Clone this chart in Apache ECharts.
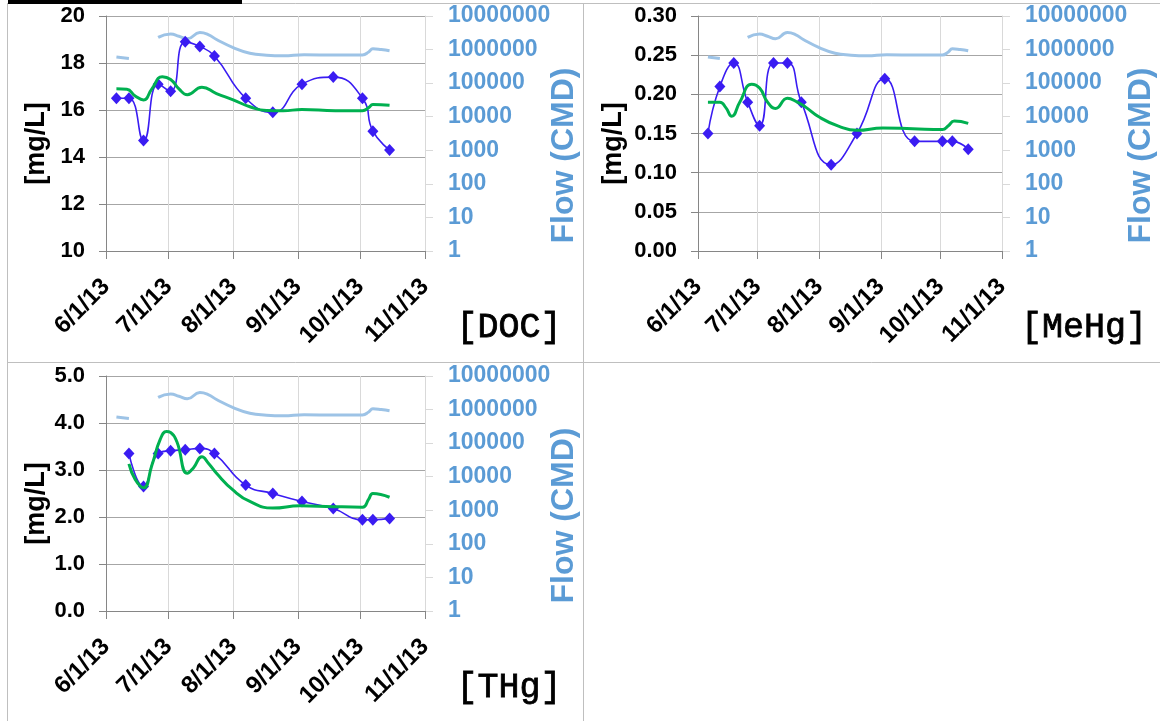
<!DOCTYPE html>
<html><head><meta charset="utf-8">
<script src="https://cdn.jsdelivr.net/npm/echarts@6/dist/echarts.min.js"></script>
<style>html,body{margin:0;padding:0;background:#fff}#c{width:1160px;height:721px}</style>
</head><body><div id="c"></div>
<script>
// ---------------- DATA ----------------
const tickDates = ['2013-06-01','2013-07-01','2013-08-01','2013-09-01','2013-10-01','2013-11-01'];
const tickLabels = ['6/1/13','7/1/13','8/1/13','9/1/13','10/1/13','11/1/13'];
const flowTickLabels = ['1','10','100','1000','10000','100000','1000000','10000000'];

const sampleDates = ['2013-06-06','2013-06-12','2013-06-19','2013-06-26','2013-07-02','2013-07-09','2013-07-16','2013-07-23','2013-08-07','2013-08-20','2013-09-03','2013-09-18','2013-10-02','2013-10-07','2013-10-15'];
const docObs  = [16.5,16.5,14.7,17.1,16.8,18.9,18.7,18.3,16.5,15.9,17.1,17.4,16.5,15.1,14.3];
const mehgObs = [0.15,0.21,0.24,0.19,0.16,0.24,0.24,0.19,0.11,0.15,0.22,0.14,0.14,0.14,0.13];
const thgDates = ['2013-06-12','2013-06-19','2013-06-26','2013-07-02','2013-07-09','2013-07-16','2013-07-23','2013-08-07','2013-08-20','2013-09-03','2013-09-18','2013-10-02','2013-10-07','2013-10-15'];
const thgObs  = [3.35,2.65,3.35,3.41,3.43,3.46,3.35,2.68,2.50,2.33,2.18,1.94,1.94,1.97];

const docModelDates = ['2013-06-06','2013-06-11','2013-06-15','2013-06-19','2013-06-23','2013-06-28','2013-07-02','2013-07-06','2013-07-10','2013-07-17','2013-07-24','2013-08-01','2013-08-09','2013-08-17','2013-08-25','2013-09-03','2013-09-19','2013-10-02','2013-10-05','2013-10-07','2013-10-15'];
const docModel = [16.9,16.88,16.6,16.43,16.9,17.42,17.3,16.9,16.65,16.97,16.7,16.43,16.14,15.98,15.97,16.02,15.97,15.97,16.1,16.23,16.2];

const mehgModelDates = ['2013-06-06','2013-06-12','2013-06-15','2013-06-18','2013-06-22','2013-06-28','2013-07-02','2013-07-06','2013-07-10','2013-07-16','2013-07-21','2013-07-25','2013-08-01','2013-08-11','2013-08-20','2013-09-02','2013-09-17','2013-10-02','2013-10-05','2013-10-08','2013-10-15'];
const mehgModel = [0.19,0.19,0.183,0.172,0.19,0.213,0.208,0.19,0.182,0.195,0.19,0.184,0.171,0.159,0.154,0.157,0.156,0.155,0.16,0.166,0.163];

const thgModelDates = ['2013-06-12','2013-06-15','2013-06-19','2013-06-23','2013-06-27','2013-06-30','2013-07-02','2013-07-05','2013-07-10','2013-07-13','2013-07-17','2013-07-20','2013-07-24','2013-08-01','2013-08-09','2013-08-20','2013-09-02','2013-09-18','2013-10-02','2013-10-05','2013-10-07','2013-10-15'];
const thgModel = [3.13,2.8,2.62,3.1,3.65,3.82,3.8,3.6,2.93,3.05,3.28,3.15,2.93,2.57,2.33,2.19,2.24,2.22,2.21,2.38,2.5,2.42];

const flowDates = ['2013-06-06','2013-06-12','2013-06-18','2013-06-26','2013-07-02','2013-07-06','2013-07-10','2013-07-16','2013-07-20','2013-07-24','2013-08-01','2013-08-09','2013-08-17','2013-08-25','2013-09-04','2013-09-19','2013-10-02','2013-10-05','2013-10-07','2013-10-11','2013-10-15'];
const flowCMD = [600000,540000,null,2300000,2900000,2500000,2100000,3200000,2800000,2000000,1150000,780000,680000,650000,700000,690000,690000,850000,1050000,1000000,920000];

// ---------------- HELPERS ----------------
const T0 = Date.parse('2013-06-01');
const day = s => (Date.parse(s) - T0) / 864e5;
const pairs = (dates, vals) => dates.map((d, i) => [day(d), vals[i]]);
const tickDays = tickDates.map(day);
const tickLabelOf = {}; tickDays.forEach((d, i) => tickLabelOf[d] = tickLabels[i]);

const panels = [
  { obsDates: sampleDates, obs: docObs, modDates: docModelDates, mod: docModel, min: 10, max: 20, interval: 2, dec: 0, tag: '[DOC]',
    grid: { left: 106, top: 16, width: 319, height: 235 }, nameGap: 56, tagPos: [509, 328] },
  { obsDates: sampleDates, obs: mehgObs, modDates: mehgModelDates, mod: mehgModel, min: 0, max: 0.30, interval: 0.05, dec: 2, tag: '[MeHg]',
    grid: { left: 698, top: 16, width: 304, height: 235 }, nameGap: 71, tagPos: [1084, 328] },
  { obsDates: thgDates, obs: thgObs, modDates: thgModelDates, mod: thgModel, min: 0, max: 5, interval: 1, dec: 1, tag: '[THg]',
    grid: { left: 106, top: 376, width: 319, height: 235 }, nameGap: 56, tagPos: [509, 688] }
];

const FONT = 'Liberation Sans, Arial, sans-serif';
const BLUE = '#3A1CF2', GREEN = '#00B050', FLOW = '#9DC3E6', FLOWTXT = '#5B9BD5';

const option = { animation: false, backgroundColor: '#fff', grid: [], xAxis: [], yAxis: [], series: [], graphic: [] };

panels.forEach((p, i) => {
  option.grid.push(Object.assign({ containLabel: false }, p.grid));
  option.xAxis.push({
    type: 'value', gridIndex: i, min: 0, max: tickDays[tickDays.length - 1],
    axisLine: { show: true, lineStyle: { color: '#868686', width: 1 } },
    axisTick: { show: true, inside: false, length: 8, customValues: tickDays, lineStyle: { color: '#868686' } },
    axisLabel: { customValues: tickDays, rotate: 45, margin: 32, color: '#000', fontFamily: FONT, fontWeight: 'bold', fontSize: 24,
      formatter: v => tickLabelOf[v] !== undefined ? tickLabelOf[v] : '' },
    splitLine: { show: true, lineStyle: { color: '#D9D9D9', width: 1 } }
  });
  option.yAxis.push({
    type: 'value', gridIndex: i, position: 'left', min: p.min, max: p.max, interval: p.interval,
    name: '[mg/L]', nameLocation: 'middle', nameGap: p.nameGap, nameRotate: 90,
    nameTextStyle: { color: '#000', fontFamily: FONT, fontWeight: 'bold', fontSize: 27, padding: [0, 20, 0, 0] },
    axisLine: { show: true, lineStyle: { color: '#868686' } },
    axisTick: { show: true, inside: false, length: 7, lineStyle: { color: '#868686' } },
    axisLabel: { color: '#000', fontFamily: FONT, fontWeight: 'bold', fontSize: 22, margin: 21, formatter: v => v.toFixed(p.dec) },
    splitLine: { show: true, lineStyle: { color: '#A6A6A6', width: 1 } }
  });
  option.yAxis.push({
    type: 'log', logBase: 10, gridIndex: i, position: 'right', min: 1, max: 1e7, splitNumber: 7,
    name: 'Flow (CMD)', nameLocation: 'middle', nameGap: 123, nameRotate: 90, nameMoveOverlap: false,
    nameTextStyle: { color: FLOWTXT, fontFamily: FONT, fontWeight: 'bold', fontSize: 32, padding: [0, 44, 0, 0] },
    axisLine: { show: true, lineStyle: { color: '#D9D9D9' } },
    axisTick: { show: true, inside: false, length: 8, lineStyle: { color: '#D9D9D9' } },
    axisLabel: { color: FLOWTXT, fontFamily: FONT, fontWeight: 'bold', fontSize: 23, margin: 23,
      formatter: v => flowTickLabels[Math.round(Math.log10(v))] },
    splitLine: { show: false }
  });
  option.series.push({
    type: 'line', xAxisIndex: i, yAxisIndex: 2 * i + 1, data: pairs(flowDates, flowCMD), smooth: true, connectNulls: false,
    showSymbol: false, lineStyle: { color: FLOW, width: 3 }, z: 2
  });
  option.series.push({
    type: 'line', xAxisIndex: i, yAxisIndex: 2 * i, data: pairs(p.obsDates, p.obs), smooth: true,
    symbol: 'diamond', symbolSize: [11, 12], itemStyle: { color: BLUE }, lineStyle: { color: BLUE, width: 1.6 }, z: 3
  });
  option.series.push({
    type: 'line', xAxisIndex: i, yAxisIndex: 2 * i, data: pairs(p.modDates, p.mod), smooth: true,
    showSymbol: false, lineStyle: { color: GREEN, width: 3 }, z: 4
  });
  option.graphic.push({ type: 'text', x: p.tagPos[0], y: p.tagPos[1], z: 10,
    style: { text: p.tag, fill: '#000', stroke: '#000', lineWidth: 0.8, font: '35px "Liberation Mono", "Courier New", monospace', align: 'center', verticalAlign: 'middle' } });
});

// panel frames
const frame = { stroke: '#BFBFBF', lineWidth: 1 };
option.graphic.push(
  { type: 'line', shape: { x1: 7.5, y1: 3, x2: 7.5, y2: 721 }, style: frame, silent: true },
  { type: 'line', shape: { x1: 583.5, y1: 3, x2: 583.5, y2: 721 }, style: frame, silent: true },
  { type: 'line', shape: { x1: 7, y1: 3.5, x2: 1160, y2: 3.5 }, style: frame, silent: true },
  { type: 'line', shape: { x1: 7, y1: 362.5, x2: 1160, y2: 362.5 }, style: frame, silent: true },
  { type: 'rect', shape: { x: 8, y: 0, width: 234, height: 4 }, style: { fill: '#000' }, silent: true }
);

const chart = echarts.init(document.getElementById('c'), null, { renderer: 'canvas' });
chart.setOption(option);
</script></body></html>
